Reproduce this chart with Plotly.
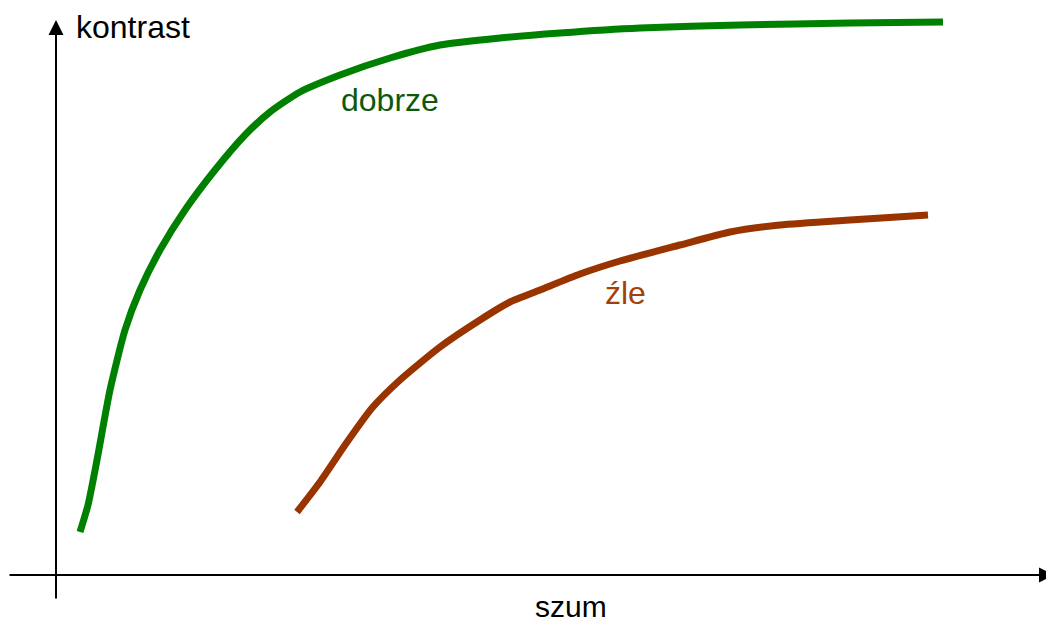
import plotly.graph_objects as go

# data coordinates: origin at axis crossing, 1 unit = 1 pixel
good_x = [24, 32, 41, 54, 69, 84, 104, 129, 159, 189, 214, 244, 284, 334, 384, 444, 504, 584, 684, 794, 887]
good_y = [43, 70, 115, 185, 245, 285, 325, 365, 405, 440, 463, 483, 500, 517, 530, 537, 542, 547, 550, 552, 553]
bad_x = [241, 264, 289, 316, 344, 384, 424, 454, 484, 524, 564, 624, 674, 724, 794, 872]
bad_y = [63, 93, 130, 167, 195, 228, 255, 273, 285, 301, 314, 330, 343, 350, 355, 360]

GREEN = "#008000"
BROWN = "#993300"

fig = go.Figure()
fig.add_trace(go.Scatter(x=good_x, y=good_y, mode="lines", line=dict(color=GREEN, width=7, shape="spline", smoothing=0.6), hoverinfo="skip"))
fig.add_trace(go.Scatter(x=bad_x, y=bad_y, mode="lines", line=dict(color=BROWN, width=7, shape="spline", smoothing=0.6), hoverinfo="skip"))

# axes lines with arrows
fig.add_annotation(x=998, y=0, ax=-48, ay=0, xref="x", yref="y", axref="x", ayref="y",
                   showarrow=True, arrowhead=2, arrowsize=1.5, arrowwidth=2, arrowcolor="black", text="")
fig.add_annotation(x=0, y=555, ax=0, ay=-25, xref="x", yref="y", axref="x", ayref="y",
                   showarrow=True, arrowhead=2, arrowsize=1.5, arrowwidth=2, arrowcolor="black", text="")

font = "Liberation Sans, Arial, sans-serif"
fig.add_annotation(x=18, y=548, text="kontrast", showarrow=False, xanchor="left", yanchor="middle",
                   font=dict(family=font, size=32, color="black"))
fig.add_annotation(x=515, y=-31, text="szum", showarrow=False, xanchor="center", yanchor="middle",
                   font=dict(family=font, size=30, color="black"))
fig.add_annotation(x=283, y=475, text="dobrze", showarrow=False, xanchor="left", yanchor="middle",
                   font=dict(family=font, size=32, color="#0b5a0b"))
fig.add_annotation(x=547, y=282, text="źle", showarrow=False, xanchor="left", yanchor="middle",
                   font=dict(family=font, size=32, color="#a0410d"))

fig.update_layout(
    width=1046, height=615, margin=dict(l=0, r=0, t=0, b=0),
    plot_bgcolor="white", paper_bgcolor="white", showlegend=False,
    xaxis=dict(range=[-48, 998], visible=False, fixedrange=True),
    yaxis=dict(range=[-48, 567], visible=False, fixedrange=True),
)
fig.write_html("out.html", config=dict(displayModeBar=False))
